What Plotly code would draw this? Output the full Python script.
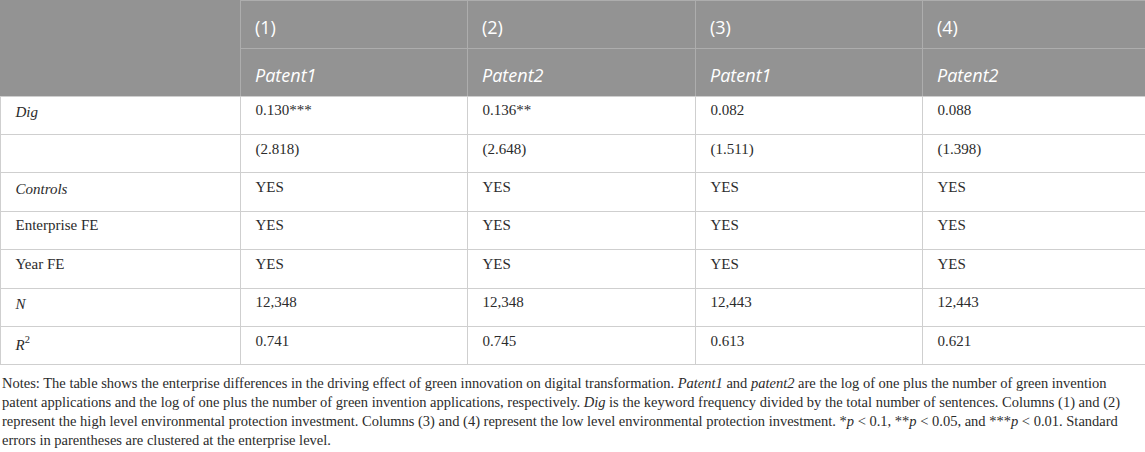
import plotly.graph_objects as go

# header
col_numbers = ["(1)", "(2)", "(3)", "(4)"]
col_depvars = ["Patent1", "Patent2", "Patent1", "Patent2"]

# body
row_labels = ["<i>Dig</i>", "", "<i>Controls</i>", "Enterprise FE", "Year FE", "<i>N</i>", "<i>R</i><sup>2</sup>"]
model1 = ["0.130***", "(2.818)", "YES", "YES", "YES", "12,348", "0.741"]
model2 = ["0.136**", "(2.648)", "YES", "YES", "YES", "12,348", "0.745"]
model3 = ["0.082", "(1.511)", "YES", "YES", "YES", "12,443", "0.613"]
model4 = ["0.088", "(1.398)", "YES", "YES", "YES", "12,443", "0.621"]

notes = (
    "Notes: The table shows the enterprise differences in the driving effect of green innovation on digital transformation. "
    "<i>Patent1</i> and <i>patent2</i> are the log of one plus the number of green invention<br>"
    "patent applications and the log of one plus the number of green invention applications, respectively. "
    "<i>Dig</i> is the keyword frequency divided by the total number of sentences. Columns (1) and (2)<br>"
    "represent the high level environmental protection investment. Columns (3) and (4) represent the low level "
    "environmental protection investment. *<i>p</i> &lt; 0.1, **<i>p</i> &lt; 0.05, and ***<i>p</i> &lt; 0.01. Standard<br>"
    "errors in parentheses are clustered at the enterprise level."
)

W, H = 1145, 452
HEAD_H = 48
HEAD_FILL = "#939393"
HEAD_LINE = "#adadad"
BODY_LINE = "#cfcfcf"
widths = [240, 227, 228, 227, 223]
pad = "\u2002"


def padded(vals):
    return [pad + v if v else v for v in vals]


fig = go.Figure()

# two-row grey header (texts added as annotations so they sit centred in the rows)
head_lines = dict(color=[HEAD_FILL] + [HEAD_LINE] * 4, width=1)
fig.add_trace(go.Table(
    domain=dict(x=[0, 1], y=[1 - 2 * HEAD_H / H, 1]),
    columnwidth=widths,
    header=dict(values=[" "] * 5, fill_color=HEAD_FILL, line=head_lines, height=HEAD_H),
    cells=dict(values=[[" "]] * 5, fill_color=HEAD_FILL, line=head_lines, height=HEAD_H),
))

left = 0
for i, w in enumerate(widths[1:]):
    left += widths[i]
    for row, txt in enumerate([col_numbers[i], "<i>" + col_depvars[i] + "</i>"]):
        fig.add_annotation(
            text=txt, x=(left + 13) / W, y=1 - (row + 0.57) * HEAD_H / H,
            xref="paper", yref="paper", xanchor="left", yanchor="middle",
            showarrow=False, font=dict(family="Open Sans", size=18, color="white"),
        )

# body rows: first row goes in the table header so all rows share one style
body = [padded(row_labels), padded(model1), padded(model2), padded(model3), padded(model4)]
body_style = dict(
    fill_color="white",
    line=dict(color=BODY_LINE, width=1),
    font=dict(family="Liberation Serif", size=15, color="#2b2b2b"),
    align="left",
    height=38.4,
)
fig.add_trace(go.Table(
    domain=dict(x=[0, 1], y=[0.1, 1 - 2 * HEAD_H / H]),
    columnwidth=widths,
    header=dict(values=[col[0] for col in body], **body_style),
    cells=dict(values=[col[1:] for col in body], **body_style),
))

fig.add_annotation(
    text=notes, x=0, y=1 - 373 / H, xref="paper", yref="paper",
    xanchor="left", yanchor="top", align="left", showarrow=False,
    font=dict(family="Liberation Serif", size=14.5, color="#2b2b2b"),
)

fig.update_layout(width=W, height=H, margin=dict(t=0, l=0, r=0, b=0),
                  paper_bgcolor="white")

fig.write_html("out.html", config={"displayModeBar": False},
               post_script="document.body.style.margin='0';")
